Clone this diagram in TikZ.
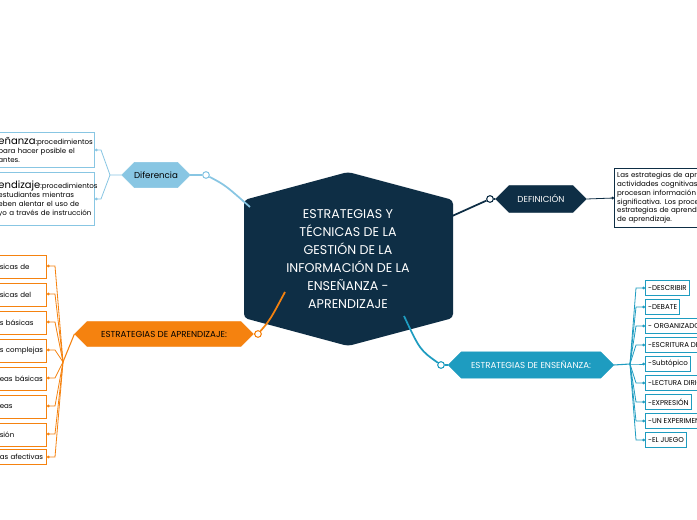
\documentclass[tikz,border=0pt]{standalone}
\usepackage{fontspec}
\setmainfont{Poppins}
\usetikzlibrary{shapes.geometric,shapes.misc,positioning,arrows.meta}
\definecolor{navy}{HTML}{0E2E45}
\definecolor{sky}{HTML}{88C6E3}
\definecolor{teal}{HTML}{1E9CC0}
\definecolor{orng}{HTML}{F5820F}
\hyphenpenalty=10000
\tikzset{
	branch/.style = {chamfered rectangle, chamfered rectangle xsep=2cm, draw=#1, fill=#1, minimum height=16pt, font=\fontsize{6.5}{7}\selectfont},
	leaf/.style = {draw=#1, fill=white, line width=0.8pt, align=left, inner sep=2pt, font=\fontsize{5.3}{6.6}\selectfont},
	knob/.style = {circle, draw=#1, fill=white, line width=0.8pt, inner sep=0pt, minimum size=5pt},
	link/.style = {draw=#1, line width=1.3pt},
	twig/.style = {draw=#1, line width=0.6pt, -{Circle[length=2pt]}}
}
\begin{document}
\begin{tikzpicture}[x=0.75pt, y=-0.75pt]
\useasboundingbox (0,0) rectangle (697,520);
\clip (0,0) rectangle (697,520);
\fill[white] (0,0) rectangle (697,520);
% centre
\fill[navy, rounded corners=3pt] (348,172) -- (453,200) -- (453,318) -- (348,346) -- (244,318) -- (244,200) -- cycle;
\node[text=white, align=center, font=\fontsize{9.5}{13.5}\selectfont] (core) at (348,259)
	{ESTRATEGIAS Y\\TÉCNICAS DE LA\\GESTIÓN DE LA\\INFORMACIÓN DE LA\\ENSEÑANZA -\\APRENDIZAJE};
\coordinate (cl) at (250,207);
\coordinate (cr) at (450,217);
\coordinate (cb) at (404,316);
\coordinate (co) at (285,292);
% diferencia
\node[branch=sky] (dif) at (156,175) {Diferencia};
\node[knob=sky] (difk) at (206,175) {};
\draw[link=sky] (cl) .. controls (225,185) .. (difk);
\draw[link=sky] (difk) -- (dif.east);
\node[leaf=sky, text width=70pt, anchor=east, minimum height=26pt] (ens) at (95,150)
	{{\fontsize{7.5}{7}\selectfont eñanza}:procedimientos\\para hacer posible el\\antes.};
\node[leaf=sky, text width=70pt, anchor=east, minimum height=40pt] (apr) at (95,199)
	{{\fontsize{7.5}{7}\selectfont endizaje}:procedimientos\\estudiantes mientras\\eben alentar el uso de\\yo a través de instrucción\\[4pt]};
\coordinate (difj) at (110,175);
\draw[twig=sky] (dif.west) -- (difj) -- (101,150) -- (ens.east);
\draw[twig=sky] (difj) -- (101,199) -- (apr.east);
% definicion
\node[branch=navy, text=white, minimum width=68pt] (def) at (541,199) {DEFINICIÓN};
\node[knob=navy] (defk) at (490,199) {};
\draw[link=navy] (cr) -- (defk) -- (def.west);
\node[leaf=navy, text width=100pt, anchor=west, minimum height=44pt] (deft) at (614,198)
	{Las estrategias de aprendizaje son\\actividades cognitivas que\\procesan información de manera\\significativa. Los procesos de las\\estrategias de aprendizaje\\de aprendizaje.};
\draw[twig=navy] (def.east) -- (deft.west);
% enseñanza
\node[branch=teal, text=white, minimum width=124pt] (ens2) at (531,365) {ESTRATEGIAS DE ENSEÑANZA:};
\node[knob=teal] (ens2k) at (441,365) {};
\draw[link=teal] (cb) .. controls (420,350) .. (ens2k);
\draw[link=teal] (ens2k) -- (ens2.west);
\coordinate (ensj) at (630,364);
\draw[draw=teal, line width=0.8pt] (ens2.east) -- (ensj);
\foreach \t [count=\i] in {-DESCRIBIR,-DEBATE,- ORGANIZADOR,-ESCRITURA DE,-Subtópico,-LECTURA DIRIGIDA,-EXPRESIÓN,-UN EXPERIMENTO,-EL JUEGO}{
	\node[leaf=teal, anchor=west, minimum height=11pt] (e\i) at (645,269+19*\i) {\t};
	\draw[twig=teal] (ensj) -- (636,269+19*\i) -- (e\i.west);
}
% aprendizaje
\node[branch=orng, minimum width=134pt] (apr2) at (164,334) {ESTRATEGIAS DE APRENDIZAJE:};
\node[knob=orng] (apr2k) at (258,334) {};
\draw[link=orng] (co) .. controls (270,320) .. (apr2k);
\draw[link=orng] (apr2k) -- (apr2.east);
\coordinate (aprj) at (63,362);
\draw[draw=orng, line width=0.8pt] (apr2.west) -- (aprj);
\foreach \t [count=\i] in {sicas de,sicas del,s básicas,s complejas,eas básicas,eas,sión,as afectivas}{
	\ifnum\i<8
	\node[leaf=orng, anchor=north east, minimum height=17pt, text width=33pt] (a\i) at (47,255+28*\i-28) {\t};
	\draw[twig=orng] (aprj) -- (55,266+28*\i-28) -- (47,266+28*\i-28);
	\else
	\node[leaf=orng, anchor=east, minimum height=11pt, text width=33pt] (a\i) at (47,457) {\t};
	\draw[twig=orng] (aprj) -- (55,457) -- (a\i.east);
	\fi
}
\end{tikzpicture}
\end{document}
